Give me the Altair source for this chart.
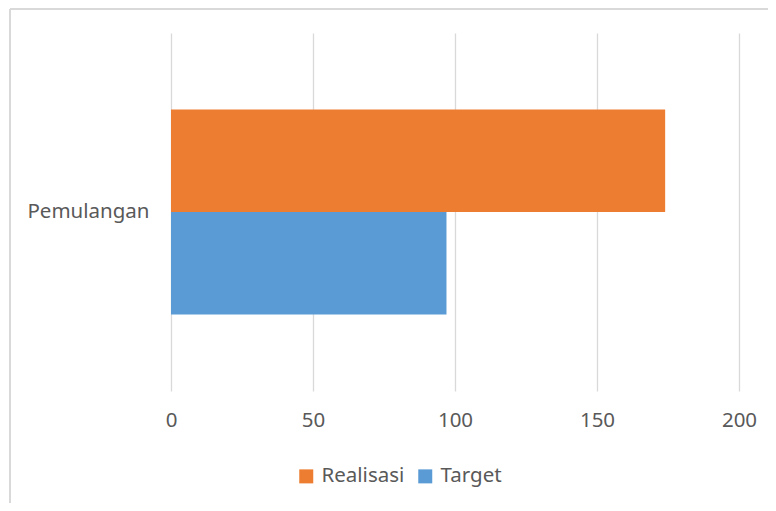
import altair as alt
import pandas as pd

categories = ["Pemulangan"]
series = ["Realisasi", "Target"]
values = [174, 97]
colors = ["#ED7D31", "#5B9BD5"]
x_ticks = [0, 50, 100, 150, 200]

df = pd.DataFrame({
    "kategori": [categories[0]] * len(series),
    "seri": series,
    "nilai": values,
})

W, H = 568, 358
FS = 20.5
FONT = "Noto Sans"
TXT = "#595959"

bars = alt.Chart(df).mark_bar().encode(
    y=alt.Y("kategori:N", title=None,
            scale=alt.Scale(paddingInner=0, paddingOuter=0.373),
            axis=alt.Axis(domain=False, ticks=False, labelPadding=22,
                          labelFontSize=FS, labelColor=TXT,
                          labelFont=FONT, grid=False)),
    x=alt.X("nilai:Q", title=None,
            scale=alt.Scale(domain=[0, 200], nice=False),
            axis=alt.Axis(values=x_ticks, domain=False, ticks=False,
                          labelPadding=19, labelFontSize=FS, labelFlush=False,
                          labelColor=TXT, labelFont=FONT,
                          grid=True, gridColor="#D9D9D9", gridWidth=1.3)),
    yOffset=alt.YOffset("seri:N", sort=series,
                        scale=alt.Scale(paddingInner=0, paddingOuter=0)),
    color=alt.Color("seri:N", sort=series,
                    scale=alt.Scale(domain=series, range=colors),
                    legend=alt.Legend(title=None, orient="none",
                                      direction="horizontal",
                                      legendX=125, legendY=433,
                                      symbolType="square", symbolSize=196,
                                      symbolStrokeWidth=0,
                                      labelFontSize=FS, labelColor=TXT,
                                      labelFont=FONT, columnPadding=10,
                                      labelOffset=5)),
)

border_df = pd.DataFrame({"b": [0]})
top_border = alt.Chart(border_df).mark_rule(color="#D9D9D9", strokeWidth=2).encode(
    x=alt.value(-161), x2=alt.value(W + 40), y=alt.value(-24)
)
left_border = alt.Chart(border_df).mark_rule(color="#D9D9D9", strokeWidth=2).encode(
    x=alt.value(-161), y=alt.value(-24), y2=alt.value(H + 130)
)

chart = alt.layer(bars, top_border, left_border).properties(
    width=W, height=H,
    background="white",
    autosize=alt.AutoSizeParams(type="none"),
    padding={"left": 163, "top": 25, "right": 29, "bottom": 112},
).configure_view(stroke=None)

chart.save("out.html", embed_options={"renderer": "svg", "actions": False})
